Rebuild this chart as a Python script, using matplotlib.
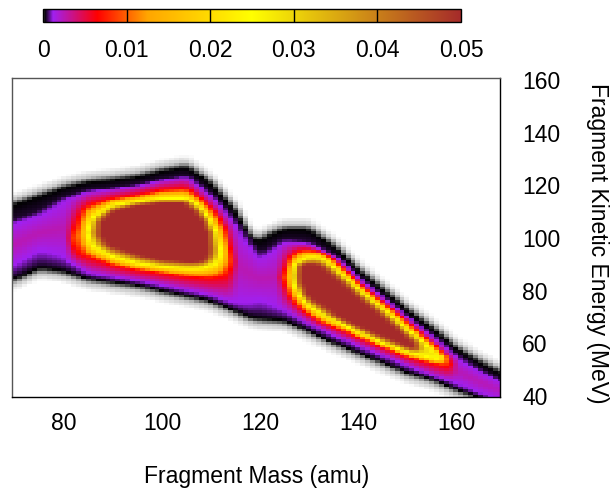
import numpy as np
import matplotlib
matplotlib.use("Agg")
import matplotlib.pyplot as plt
from matplotlib.colors import LinearSegmentedColormap

plt.rcParams['font.family'] = ['Liberation Sans', 'DejaVu Sans']

W, H = 611, 491
x_ticks = [80, 100, 120, 140, 160]
y_ticks = [40, 60, 80, 100, 120, 140, 160]
cbar_ticks = [0, 0.01, 0.02, 0.03, 0.04, 0.05]
cbar_labels = ['0', '0.01', '0.02', '0.03', '0.04', '0.05']
x_label = 'Fragment Mass (amu)'
y_label = 'Fragment Kinetic Energy (MeV)'

# contour crossings (mass, upper MeV, lower MeV)
black_top_m = [70, 75, 80, 85, 90, 95, 100, 105, 110, 115, 118, 120, 122, 125, 130, 135, 140, 145, 150, 155, 160, 165, 170]
black_top_e = [112.5, 115.7, 118.8, 121, 121.8, 123, 125.2, 126.8, 120.7, 110, 100, 98.6, 101, 103, 103, 96.7, 87.8, 80.2, 72.6, 65.7, 58, 52.4, 47.5]
black_bot_m = [70, 75, 80, 85, 90, 95, 100, 105, 110, 115, 118, 120, 125, 130, 135, 140, 145, 150, 155, 160, 165, 170]
black_bot_e = [84.7, 88.8, 87.6, 84.7, 83.4, 82.2, 80.2, 78.3, 76.4, 72.6, 70, 69.5, 68.8, 65, 60.6, 56.8, 53, 49.2, 46.7, 42.9, 39.7, 36]
purple_top_m = [70, 75, 80, 85, 90, 95, 100, 105, 110, 115, 120, 125, 130, 135, 140, 145, 150, 155, 160, 165, 170]
purple_top_e = [105.6, 108.7, 114.4, 117.6, 118.5, 119.7, 121.8, 123, 115.7, 104.9, 92.2, 98.6, 97.9, 92.9, 84.6, 77, 69.5, 62.5, 54.9, 49.2, 44.5]
purple_bot_m = [70, 75, 80, 85, 90, 95, 100, 105, 110, 115, 118, 120, 125, 130, 135, 140, 145, 150, 155, 160, 165, 170]
purple_bot_e = [89.7, 95.4, 92.9, 86.6, 85.3, 83.8, 82.1, 80.2, 78.3, 75.2, 75.2, 76.4, 72.6, 67.6, 63.1, 59.3, 55.5, 51.7, 47.9, 44.8, 41, 38]

red_a_m = [81.5, 83, 85, 90, 95, 100, 105, 110, 111.1, 113.2, 114.2, 114.8]
red_a_top = [102, 108, 112.5, 115, 116.3, 118.2, 118.8, 111.2, 109, 101.8, 95, 92]
red_a_bot = [96, 94, 92.9, 89.7, 87.8, 86.6, 85.3, 84.7, 85, 86, 86.5, 87]
red_b_m = [124.8, 126, 127.5, 130, 132.6, 135, 140, 145, 150, 155, 158.1, 159]
red_b_top = [88, 91, 95.2, 95.4, 94.8, 91.6, 82.7, 75.2, 68.2, 59.3, 54, 53]
red_b_bot = [82, 79.6, 74.5, 71.4, 68, 66.3, 62.5, 58.7, 54.9, 52.4, 51.1, 51]

yellow_a_m = [84.5, 86.6, 90, 95, 100, 105, 107.7, 110, 111.8, 112.3]
yellow_a_top = [105, 108.7, 112.5, 113.8, 115, 115, 111.9, 105.5, 99, 96]
yellow_a_bot = [99, 96, 92.9, 90.4, 89.1, 88.5, 88.5, 89.7, 91, 92]
yellow_b_m = [126.6, 128.2, 130, 132.6, 135, 140, 145, 150, 155, 156.4, 157]
yellow_b_top = [89, 91.6, 92.6, 92.6, 89, 80.9, 73.3, 65, 58.7, 56, 55]
yellow_b_bot = [83, 78.3, 74.5, 71, 68.8, 64.4, 60, 56.8, 54.3, 54, 54]

brown_a_m = [87, 88.7, 90, 95, 100, 105, 107, 109.1, 110.2, 110.8]
brown_a_top = [106, 108.7, 110, 112.5, 113.1, 113.1, 110, 106.2, 101, 98]
brown_a_bot = [101, 97, 96.7, 93.5, 91.6, 91, 91, 91.6, 94, 96]
brown_b_m = [128, 129.2, 132.6, 135, 140, 145, 150, 151.7, 152.3]
brown_b_top = [89, 90, 89.7, 85.9, 78.3, 70.7, 63.1, 60, 59.5]
brown_b_bot = [82.7, 78, 74.5, 70.7, 66.3, 62.5, 58.7, 58.1, 58]

# density assigned to each contour and the palette nodes
v_black, v_purple, v_red, v_yellow, v_brown = 0.0002, 0.0012, 0.0065, 0.025, 0.05
palette_v = [0, 0.0002, 0.0012, 0.0065, 0.0125, 0.025, 0.05]
palette_c = ['#ffffff', '#000000', '#a020f0', '#ff0000', '#ffa500', '#ffff00', '#a52a2a']
FADE = 5.0

cmap = LinearSegmentedColormap.from_list('frag', [(v / 0.05, c) for v, c in zip(palette_v, palette_c)], N=16384)

mass_cells = np.arange(70, 170)
energy_cells = np.arange(40, 161, 1)


def closed_level(m, blobs):
    for bm, bt, bb in blobs:
        if bm[0] <= m <= bm[-1]:
            return np.interp(m, bm, bt), np.interp(m, bm, bb)
    return None


Z = np.zeros((len(energy_cells), len(mass_cells)))
for j, m in enumerate(mass_cells):
    bt = np.interp(m, black_top_m, black_top_e)
    bb = np.interp(m, black_bot_m, black_bot_e)
    a, b = np.interp(m, purple_top_m, purple_top_e), np.interp(m, purple_bot_m, purple_bot_e)
    pt, pb = max(a, b), min(a, b)
    upper = [(bt + FADE, 0.0), (bt + 0.4 * FADE, v_black * 0.25), (bt, v_black),
             (pt - 0.2 * (pt - bt), v_black * 2), (pt, v_purple)]
    lower = [(pb, v_purple), (bb + 0.2 * (pb - bb), v_black * 2), (bb, v_black),
             (bb - 0.4 * FADE, v_black * 0.25), (bb - FADE, 0.0)]
    top_v = v_purple
    for val, blobs in [(v_red, [(red_a_m, red_a_top, red_a_bot), (red_b_m, red_b_top, red_b_bot)]),
                       (v_yellow, [(yellow_a_m, yellow_a_top, yellow_a_bot), (yellow_b_m, yellow_b_top, yellow_b_bot)]),
                       (v_brown, [(brown_a_m, brown_a_top, brown_a_bot), (brown_b_m, brown_b_top, brown_b_bot)])]:
        hit = closed_level(m, blobs)
        if hit is None:
            break
        upper.append((hit[0], val))
        lower.insert(0, (hit[1], val))
        top_v = val
    centre = 0.5 * (upper[-1][0] + lower[0][0])
    gap = upper[-1][0] - lower[0][0]
    extra = {v_purple: 0.0014, v_red: 0.0045, v_yellow: 0.008, v_brown: 0.0}[top_v]
    pts = upper + [(centre, top_v + extra * min(gap / 8.0, 1.0))] + lower
    es = np.array([p[0] for p in pts])
    vs = np.array([p[1] for p in pts])
    order = np.argsort(es)
    Z[:, j] = np.interp(energy_cells, es[order], vs[order], left=0, right=0)

# slight blur across mass, as the reference's cells shade into one another
padded = np.pad(Z, ((0, 0), (1, 1)), mode='edge')
Z = 0.25 * padded[:, :-2] + 0.5 * padded[:, 1:-1] + 0.25 * padded[:, 2:]

fig = plt.figure(figsize=(W / 100, H / 100), dpi=100)
ax = fig.add_axes([12 / W, 1 - 397 / H, 488 / W, 319 / H])
mesh = ax.pcolormesh(mass_cells, energy_cells, Z, cmap=cmap, vmin=0, vmax=0.05, shading='nearest')
ax.set_xlim(69.4, 169.0)
ax.set_ylim(39.6, 160.8)
ax.set_xticks(x_ticks)
ax.set_yticks(y_ticks)
ax.yaxis.tick_right()
ax.tick_params(length=0, labelsize=16.5)
ax.tick_params(axis='x', pad=11)
ax.tick_params(axis='y', pad=16)
for s in ax.spines.values():
    s.set_linewidth(1.0)
ax.spines['left'].set_color('#555555')
ax.spines['top'].set_color('#555555')
fig.text(257 / W, 1 - 477 / H, x_label, ha='center', va='center', fontsize=16.5)
fig.text(598 / W, 1 - 243 / H, y_label, ha='center', va='center', rotation=270, fontsize=16.5)

cax = fig.add_axes([43 / W, 1 - 22 / H, 418 / W, 13 / H])
cb = fig.colorbar(mesh, cax=cax, orientation='horizontal', ticks=cbar_ticks)
cb.ax.set_xticklabels(cbar_labels)
cb.ax.tick_params(length=0, labelsize=16.5, pad=12)
cb.outline.set_linewidth(1.0)
cax.vlines(cbar_ticks[1:-1], 0, 1, transform=cax.get_xaxis_transform(), color='k', lw=1.0)

fig.savefig('out.png', dpi=100)
